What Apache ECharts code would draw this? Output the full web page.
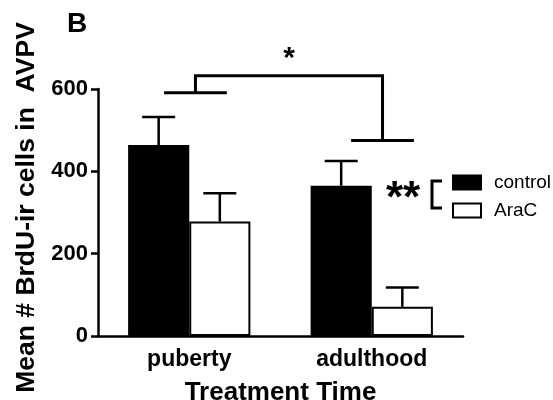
<!DOCTYPE html>
<html>
<head>
<meta charset="utf-8">
<script src="https://cdn.jsdelivr.net/npm/echarts@6/dist/echarts.min.js"></script>
<style>html,body{margin:0;padding:0;background:#fff}#c{width:553px;height:400px}</style>
</head>
<body>
<div id="c"></div>
<script>
const categories = ['puberty', 'adulthood'];
const seriesNames = ['control', 'AraC'];
const controlMean = [464, 365];
const controlSEM = [68, 60];
const aracMean = [278, 71];
const aracSEM = [69, 47];
const yTicks = [0, 200, 400, 600];
// significance bracket levels (data units)
const bracketLeftY = 591;
const bracketTopY = 632;
const bracketRightY = 475;

const FONT = "'Liberation Sans', Arial, sans-serif";
const chart = echarts.init(document.getElementById('c'), null, {renderer: 'canvas'});

const GAP = 0.33;
function errSeries(means, sems, side) {
  return {
    type: 'custom',
    z: 5,
    silent: true,
    clip: false,
    data: means.map((m, i) => [i, m, m + sems[i]]),
    encode: {x: 0, y: 1},
    renderItem: function (params, api) {
      const i = api.value(0);
      const base = api.coord([i, api.value(1)]);
      const top = api.coord([i, api.value(2)]);
      const bw = api.size([1, 0])[0];
      const barW = bw * (1 - GAP) / 2;
      const x = base[0] + side * barW / 2;
      const cap = barW * 0.27;
      const st = {stroke: '#000', lineWidth: 2.5};
      return {type: 'group', children: [
        {type: 'line', shape: {x1: x, y1: base[1], x2: x, y2: top[1]}, style: st},
        {type: 'line', shape: {x1: x - cap, y1: top[1], x2: x + cap, y2: top[1]}, style: st}
      ]};
    }
  };
}

const option = {
  animation: false,
  backgroundColor: '#fff',
  textStyle: {fontFamily: FONT},
  grid: {left: 98, right: 90, top: 89, bottom: 64, outerBoundsMode: 'none', containLabel: false},
  legend: {
    orient: 'vertical', left: 452, top: 173, padding: 0, itemWidth: 28, itemHeight: 14, itemGap: 9,
    icon: 'rect',
    textStyle: {fontFamily: FONT, fontSize: 19, color: '#000', padding: [0, 0, 0, 8]},
    data: seriesNames
  },
  xAxis: {
    type: 'category', data: categories,
    axisLine: {lineStyle: {color: '#000', width: 2.5}},
    axisTick: {alignWithLabel: true, length: 7, lineStyle: {color: '#000', width: 2.5}},
    axisLabel: {color: '#000', fontSize: 23, fontWeight: 'bold', fontFamily: FONT, margin: 12},
    name: 'Treatment Time', nameLocation: 'middle', nameGap: 44,
    nameTextStyle: {color: '#000', fontSize: 26, fontWeight: 'bold', fontFamily: FONT}
  },
  yAxis: {
    type: 'value', min: 0, max: 600, interval: 200,
    axisLine: {show: true, lineStyle: {color: '#000', width: 2.5}},
    axisTick: {show: true, length: 7, lineStyle: {color: '#000', width: 2.5}},
    splitLine: {show: false},
    axisLabel: {color: '#000', fontSize: 22, fontWeight: 'bold', fontFamily: FONT, margin: 10,
      formatter: v => yTicks.includes(v) ? String(v) : ''},
    name: 'Mean # BrdU-ir cells in  AVPV', nameLocation: 'middle', nameGap: 52, nameRotate: 90,
    nameTextStyle: {color: '#000', fontSize: 26.5, fontWeight: 'bold', fontFamily: FONT, padding: [0, 0, 0, 10]}
  },
  series: [
    {name: 'control', type: 'bar', data: controlMean, barGap: '0%', barCategoryGap: '33%',
      itemStyle: {color: '#000', borderColor: '#000', borderWidth: 2}},
    {name: 'AraC', type: 'bar', data: aracMean, barGap: '0%', barCategoryGap: '33%',
      itemStyle: {color: '#fff', borderColor: '#000', borderWidth: 2}},
    errSeries(controlMean, controlSEM, -1),
    errSeries(aracMean, aracSEM, 1),
    {
      type: 'custom', silent: true, clip: false, z: 6,
      data: [[0, bracketTopY]], encode: {x: 0, y: 1},
      renderItem: function (params, api) {
        const bw = api.size([1, 0])[0];
        const l = api.coord([0, bracketLeftY]);
        const t = api.coord([0, bracketTopY]);
        const r = api.coord([1, bracketRightY]);
        const lx = l[0] + 0.034 * bw;
        const rx = r[0] + 0.059 * bw;
        const half = 0.172 * bw;
        const st = {stroke: '#000', lineWidth: 3, lineJoin: 'miter'};
        return {type: 'group', children: [
          {type: 'polyline', shape: {points: [[lx, l[1]], [lx, t[1]], [rx, t[1]], [rx, r[1]]]}, style: Object.assign({fill: null}, st)},
          {type: 'line', shape: {x1: lx - half, y1: l[1], x2: lx + half, y2: l[1]}, style: st},
          {type: 'line', shape: {x1: rx - half, y1: r[1], x2: rx + half, y2: r[1]}, style: st},
          {type: 'text', style: {text: '*', x: (lx + rx) / 2, y: t[1] - 2, align: 'center', verticalAlign: 'bottom',
            font: 'bold 30px ' + FONT, fill: '#000'}}
        ]};
      }
    }
  ],
  graphic: [
    {type: 'text', left: 67, top: 10, style: {text: 'B', font: 'bold 28px ' + FONT, fill: '#000'}},
    {type: 'text', left: 386, top: 178, style: {text: '**', font: 'bold 44px ' + FONT, fill: '#000'}},
    {type: 'polyline', shape: {points: [[442, 181], [432, 181], [432, 208], [442, 208]]},
      style: {stroke: '#000', lineWidth: 3, fill: null}}
  ]
};
chart.setOption(option);
</script>
</body>
</html>
